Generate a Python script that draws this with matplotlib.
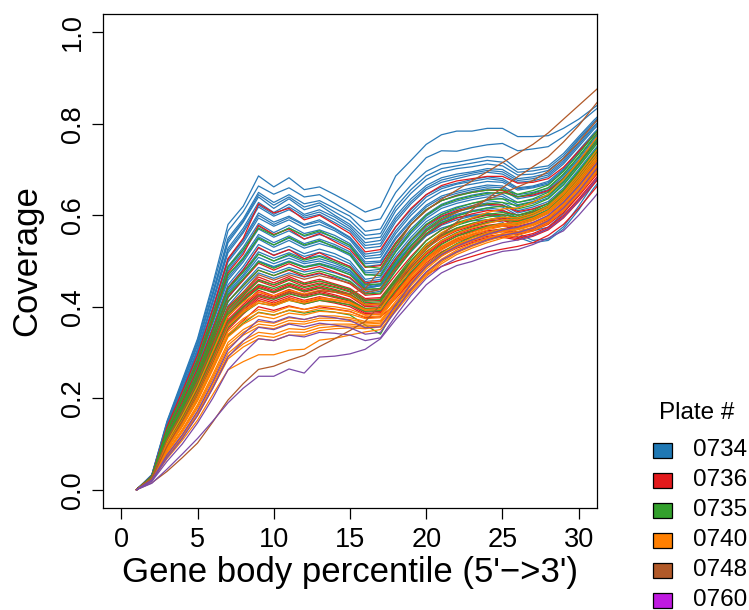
import matplotlib
matplotlib.use("Agg")
import matplotlib.pyplot as plt
from matplotlib.patches import Rectangle

plt.rcParams["font.family"] = ["Liberation Sans", "DejaVu Sans"]

# gene body percentile bins shown (1..32, last one clipped by the axis)
percentile = list(range(1, 33))

# coverage per sample, in thousandths
plate_0734 = [
    [0, 33, 150, 240, 330, 450, 580, 620, 686, 662, 682, 656, 662, 645, 627, 607, 618, 686, 720, 755, 776, 784, 784, 790, 790, 772, 772, 774, 790, 810, 835, 860],
    [0, 32, 148, 236, 326, 442, 566, 608, 664, 646, 660, 640, 645, 626, 606, 586, 592, 650, 690, 726, 741, 740, 748, 754, 757, 741, 745, 750, 772, 800, 828, 855],
    [0, 31, 145, 232, 320, 432, 550, 592, 650, 628, 645, 625, 632, 615, 598, 565, 570, 628, 666, 696, 712, 716, 722, 728, 726, 700, 703, 708, 735, 772, 808, 840],
    [0, 31, 143, 230, 318, 428, 545, 588, 645, 622, 640, 618, 627, 607, 588, 556, 560, 618, 656, 686, 702, 708, 714, 720, 716, 694, 697, 703, 730, 768, 804, 838],
    [0, 31, 142, 228, 315, 425, 540, 585, 640, 615, 636, 612, 622, 600, 580, 548, 552, 610, 648, 678, 694, 702, 706, 712, 708, 688, 690, 698, 725, 765, 800, 835],
    [0, 30, 140, 222, 308, 415, 528, 572, 628, 606, 624, 602, 612, 596, 575, 540, 545, 598, 636, 665, 682, 690, 695, 702, 700, 680, 684, 692, 720, 758, 795, 828],
    [0, 30, 139, 220, 305, 412, 523, 566, 622, 602, 618, 598, 607, 590, 570, 534, 538, 592, 630, 660, 677, 685, 692, 698, 695, 676, 680, 688, 716, 754, 792, 824],
    [0, 30, 138, 218, 302, 408, 518, 562, 618, 598, 612, 594, 602, 584, 565, 528, 532, 586, 625, 656, 672, 680, 688, 694, 690, 672, 675, 684, 712, 750, 788, 820],
    [0, 30, 136, 214, 296, 398, 505, 548, 605, 585, 598, 580, 590, 572, 552, 515, 520, 574, 612, 645, 662, 670, 678, 684, 680, 660, 664, 674, 702, 742, 780, 815],
    [0, 29, 135, 212, 294, 396, 502, 545, 600, 580, 595, 578, 586, 570, 550, 510, 514, 566, 606, 640, 658, 668, 674, 680, 676, 658, 662, 671, 699, 739, 778, 812],
    [0, 29, 134, 210, 292, 392, 498, 540, 594, 576, 590, 572, 580, 566, 546, 505, 508, 560, 600, 632, 652, 662, 668, 674, 672, 655, 660, 668, 696, 736, 775, 810],
    [0, 29, 132, 206, 286, 385, 488, 530, 582, 562, 578, 560, 568, 556, 538, 498, 500, 552, 590, 622, 642, 652, 660, 666, 664, 645, 650, 660, 690, 728, 770, 805],
    [0, 28, 131, 204, 283, 382, 483, 525, 576, 557, 572, 554, 563, 551, 534, 494, 497, 548, 586, 618, 638, 648, 656, 662, 660, 641, 646, 656, 686, 724, 766, 802],
    [0, 28, 130, 202, 280, 378, 478, 520, 570, 552, 566, 548, 558, 546, 530, 488, 492, 540, 580, 612, 632, 644, 652, 658, 655, 636, 642, 652, 682, 720, 762, 800],
    [0, 28, 128, 198, 275, 370, 468, 508, 558, 540, 555, 538, 548, 536, 520, 478, 482, 530, 570, 602, 624, 636, 644, 650, 646, 628, 634, 645, 675, 715, 758, 795],
    [0, 28, 127, 197, 273, 367, 463, 503, 553, 535, 550, 533, 543, 532, 516, 474, 477, 525, 565, 598, 620, 631, 639, 645, 641, 623, 630, 642, 672, 712, 754, 792],
    [0, 28, 126, 195, 270, 364, 458, 498, 548, 530, 545, 528, 538, 528, 512, 470, 472, 520, 560, 593, 615, 626, 634, 640, 636, 618, 626, 638, 668, 708, 750, 790],
    [0, 27, 124, 192, 266, 356, 448, 488, 536, 520, 532, 516, 526, 516, 500, 460, 465, 512, 552, 586, 606, 618, 626, 632, 628, 610, 618, 630, 660, 700, 742, 782],
    [0, 27, 123, 190, 263, 352, 442, 482, 528, 513, 525, 510, 519, 509, 494, 455, 460, 506, 546, 580, 601, 613, 621, 627, 623, 605, 613, 625, 656, 696, 738, 778],
    [0, 27, 122, 188, 260, 348, 436, 476, 520, 506, 518, 505, 512, 502, 488, 450, 455, 500, 540, 574, 596, 608, 616, 622, 618, 600, 608, 620, 652, 692, 735, 775],
    [0, 26, 120, 184, 255, 340, 428, 466, 508, 494, 506, 494, 500, 490, 478, 442, 448, 494, 534, 568, 590, 602, 610, 616, 612, 594, 602, 616, 648, 688, 730, 772],
    [0, 26, 118, 182, 252, 336, 420, 460, 500, 488, 500, 488, 495, 486, 474, 440, 446, 492, 532, 566, 588, 600, 608, 612, 608, 590, 598, 612, 645, 685, 728, 770],
    [0, 26, 115, 178, 246, 328, 410, 450, 486, 474, 486, 476, 482, 474, 462, 432, 438, 486, 526, 560, 582, 594, 600, 604, 600, 584, 592, 606, 638, 678, 722, 765],
    [0, 27, 120, 186, 258, 345, 432, 470, 515, 500, 512, 498, 505, 495, 480, 445, 450, 496, 535, 566, 585, 595, 600, 602, 596, 560, 545, 548, 575, 620, 670, 710],
    [0, 26, 116, 180, 250, 335, 420, 460, 500, 486, 498, 486, 492, 482, 470, 440, 446, 488, 525, 555, 572, 582, 588, 590, 585, 552, 540, 545, 570, 612, 660, 700],
    [0, 25, 112, 174, 240, 320, 402, 440, 474, 462, 474, 465, 472, 465, 455, 428, 434, 480, 520, 555, 578, 590, 598, 600, 594, 572, 566, 574, 604, 645, 690, 735],
]
plate_0736 = [
    [0, 30, 138, 215, 295, 395, 505, 550, 625, 605, 615, 590, 600, 580, 560, 520, 525, 575, 615, 645, 665, 675, 680, 685, 685, 670, 672, 680, 705, 740, 775, 810],
    [0, 29, 132, 204, 280, 374, 474, 515, 578, 558, 570, 548, 560, 542, 525, 486, 490, 540, 580, 612, 632, 643, 650, 655, 654, 640, 644, 654, 680, 716, 754, 792],
    [0, 28, 126, 192, 265, 352, 442, 480, 530, 512, 525, 505, 518, 502, 488, 452, 456, 505, 545, 578, 598, 610, 618, 624, 622, 608, 614, 626, 655, 692, 732, 772],
    [0, 27, 118, 182, 252, 338, 422, 458, 495, 480, 494, 480, 488, 476, 464, 436, 440, 484, 524, 558, 580, 594, 603, 610, 610, 600, 607, 620, 650, 688, 728, 768],
    [0, 27, 115, 178, 246, 330, 412, 446, 480, 468, 480, 466, 474, 462, 450, 425, 428, 470, 510, 545, 568, 582, 592, 600, 602, 594, 602, 616, 645, 682, 722, 762],
    [0, 26, 110, 172, 238, 320, 400, 432, 465, 452, 466, 452, 460, 450, 440, 418, 420, 462, 500, 535, 558, 572, 582, 590, 594, 588, 596, 610, 638, 676, 716, 755],
    [0, 26, 108, 169, 235, 316, 396, 428, 460, 448, 462, 448, 456, 447, 437, 415, 417, 458, 496, 531, 554, 569, 579, 587, 591, 585, 593, 607, 635, 673, 713, 752],
    [0, 26, 106, 166, 232, 312, 392, 424, 456, 444, 458, 444, 452, 444, 434, 412, 414, 455, 492, 528, 550, 566, 576, 584, 588, 582, 590, 604, 632, 670, 710, 750],
    [0, 25, 104, 162, 228, 305, 385, 418, 448, 436, 450, 438, 446, 438, 428, 406, 408, 448, 486, 520, 544, 560, 570, 578, 582, 576, 584, 598, 626, 664, 704, 744],
    [0, 25, 103, 161, 226, 302, 381, 415, 445, 433, 447, 435, 443, 435, 425, 403, 405, 445, 483, 517, 541, 557, 567, 575, 579, 573, 581, 595, 623, 661, 701, 741],
    [0, 25, 102, 160, 224, 300, 378, 412, 442, 430, 444, 432, 440, 432, 422, 400, 402, 442, 480, 514, 538, 554, 564, 572, 576, 570, 578, 592, 620, 658, 698, 738],
    [0, 25, 100, 156, 220, 295, 372, 405, 436, 424, 438, 426, 434, 426, 416, 396, 398, 436, 474, 508, 532, 548, 558, 566, 570, 564, 572, 586, 614, 650, 690, 730],
    [0, 24, 99, 154, 217, 291, 368, 401, 432, 421, 434, 423, 431, 423, 414, 394, 396, 433, 471, 505, 529, 545, 555, 563, 567, 561, 569, 583, 610, 646, 686, 726],
    [0, 24, 98, 152, 215, 288, 364, 398, 428, 418, 430, 420, 428, 420, 412, 392, 394, 430, 468, 502, 526, 542, 552, 560, 564, 558, 566, 580, 606, 642, 682, 722],
    [0, 24, 96, 150, 212, 284, 358, 392, 422, 412, 424, 414, 422, 415, 408, 388, 390, 425, 462, 496, 520, 536, 546, 554, 558, 552, 560, 574, 600, 636, 676, 715],
    [0, 24, 95, 148, 209, 280, 354, 388, 418, 408, 420, 410, 418, 411, 404, 385, 387, 421, 458, 492, 516, 532, 543, 551, 555, 549, 557, 571, 597, 633, 672, 712],
    [0, 24, 94, 146, 206, 276, 350, 384, 414, 404, 416, 406, 414, 408, 400, 382, 384, 418, 455, 488, 512, 528, 540, 548, 552, 546, 554, 568, 594, 630, 668, 708],
    [0, 23, 90, 140, 198, 266, 338, 370, 400, 392, 402, 394, 400, 395, 390, 376, 378, 405, 440, 470, 488, 500, 510, 520, 526, 532, 540, 556, 580, 615, 655, 695],
]
plate_0735 = [
    [0, 29, 132, 205, 285, 382, 488, 525, 572, 556, 572, 556, 566, 550, 534, 488, 484, 536, 580, 612, 632, 642, 650, 655, 656, 646, 654, 666, 696, 734, 776, 812],
    [0, 28, 128, 198, 275, 368, 470, 505, 550, 535, 552, 535, 545, 530, 515, 470, 468, 520, 565, 600, 622, 634, 642, 648, 650, 640, 648, 660, 690, 728, 770, 808],
    [0, 27, 120, 186, 258, 345, 440, 476, 515, 500, 515, 502, 510, 498, 485, 448, 450, 500, 545, 580, 602, 616, 626, 634, 636, 628, 636, 650, 680, 718, 760, 800],
    [0, 26, 116, 180, 250, 335, 426, 461, 498, 484, 498, 486, 494, 483, 470, 438, 440, 489, 533, 570, 593, 607, 617, 625, 628, 621, 629, 643, 673, 712, 754, 795],
    [0, 26, 112, 175, 242, 325, 412, 446, 480, 468, 482, 470, 478, 468, 456, 428, 430, 478, 522, 560, 584, 598, 608, 616, 620, 614, 622, 636, 666, 706, 748, 790],
    [0, 25, 106, 166, 232, 312, 395, 428, 458, 448, 460, 450, 456, 448, 438, 414, 416, 462, 506, 544, 568, 584, 594, 602, 606, 600, 610, 626, 656, 696, 738, 780],
    [0, 25, 104, 163, 228, 307, 388, 421, 449, 440, 452, 442, 449, 442, 432, 409, 411, 457, 500, 537, 561, 578, 588, 596, 601, 596, 606, 622, 652, 692, 734, 776],
    [0, 25, 102, 160, 224, 302, 382, 414, 440, 432, 444, 434, 442, 436, 426, 404, 406, 452, 494, 530, 555, 572, 582, 590, 596, 592, 602, 618, 648, 688, 730, 772],
    [0, 24, 98, 154, 216, 292, 368, 400, 424, 416, 428, 420, 428, 422, 414, 396, 398, 442, 484, 520, 545, 562, 574, 584, 590, 586, 596, 612, 642, 680, 722, 765],
    [0, 24, 94, 148, 208, 280, 355, 386, 408, 402, 414, 406, 414, 410, 404, 390, 392, 436, 476, 510, 536, 554, 566, 576, 582, 580, 590, 606, 636, 674, 716, 758],
    [0, 23, 88, 140, 196, 266, 336, 364, 388, 382, 392, 386, 392, 388, 382, 360, 340, 400, 450, 490, 518, 538, 552, 562, 570, 572, 582, 598, 628, 666, 708, 750],
]
plate_0740 = [
    [0, 25, 104, 162, 226, 302, 380, 410, 432, 424, 436, 428, 436, 432, 424, 404, 406, 450, 492, 528, 552, 568, 580, 590, 596, 594, 604, 620, 650, 690, 734, 778],
    [0, 24, 98, 152, 214, 286, 362, 392, 412, 406, 418, 412, 420, 416, 410, 394, 396, 440, 482, 518, 544, 560, 572, 582, 590, 590, 600, 616, 646, 684, 726, 770],
    [0, 23, 92, 144, 202, 272, 346, 374, 394, 388, 400, 394, 402, 400, 394, 382, 384, 428, 470, 506, 532, 550, 562, 574, 582, 584, 594, 610, 640, 678, 720, 762],
    [0, 23, 90, 141, 198, 267, 340, 368, 387, 381, 393, 388, 396, 394, 389, 378, 380, 424, 466, 502, 528, 546, 559, 571, 579, 581, 591, 607, 636, 673, 715, 757],
    [0, 23, 88, 138, 194, 262, 334, 362, 380, 374, 386, 382, 390, 388, 384, 374, 376, 420, 462, 498, 524, 542, 556, 568, 576, 578, 588, 604, 632, 668, 710, 752],
    [0, 22, 84, 132, 186, 252, 322, 350, 368, 364, 376, 372, 380, 380, 376, 368, 370, 412, 454, 490, 516, 536, 550, 562, 570, 572, 582, 598, 626, 662, 702, 744],
    [0, 22, 82, 129, 182, 247, 316, 344, 362, 358, 370, 367, 375, 375, 372, 365, 367, 408, 450, 486, 513, 533, 547, 559, 567, 570, 580, 596, 624, 660, 700, 742],
    [0, 22, 80, 126, 178, 242, 310, 338, 356, 352, 364, 362, 370, 370, 368, 362, 364, 404, 446, 482, 510, 530, 544, 556, 564, 568, 578, 594, 622, 658, 698, 740],
    [0, 21, 76, 120, 170, 232, 298, 326, 344, 340, 352, 350, 360, 362, 362, 358, 360, 398, 440, 476, 504, 524, 538, 550, 560, 564, 574, 590, 618, 654, 694, 736],
    [0, 21, 74, 117, 166, 227, 292, 319, 337, 333, 345, 344, 354, 357, 358, 355, 358, 396, 437, 473, 501, 521, 535, 547, 557, 562, 572, 588, 616, 652, 692, 734],
    [0, 21, 72, 114, 162, 222, 286, 312, 330, 326, 338, 338, 348, 352, 354, 352, 356, 394, 434, 470, 498, 518, 532, 544, 554, 560, 570, 586, 614, 650, 690, 732],
    [0, 20, 68, 108, 152, 208, 262, 280, 295, 295, 305, 307, 327, 331, 338, 345, 350, 390, 430, 466, 494, 514, 528, 540, 550, 556, 566, 582, 610, 646, 686, 728],
    [0, 24, 96, 150, 210, 282, 358, 388, 408, 402, 414, 408, 416, 414, 408, 392, 394, 445, 495, 535, 562, 580, 594, 606, 614, 616, 628, 646, 678, 718, 762, 805],
]
plate_0748 = [
    [0, 15, 40, 70, 102, 148, 196, 232, 263, 270, 283, 294, 313, 330, 348, 368, 404, 450, 490, 525, 556, 585, 612, 636, 660, 684, 706, 728, 760, 796, 838, 880],
    [0, 24, 95, 150, 212, 285, 362, 395, 425, 418, 432, 425, 435, 432, 428, 440, 480, 530, 580, 610, 635, 655, 675, 695, 715, 735, 755, 780, 810, 840, 870, 900],
    [0, 26, 110, 170, 236, 315, 398, 432, 470, 458, 470, 460, 468, 460, 452, 430, 438, 485, 528, 565, 590, 606, 620, 634, 648, 662, 676, 696, 724, 760, 800, 840],
]
plate_0760 = [
    [0, 14, 45, 78, 112, 150, 190, 222, 248, 248, 264, 255, 290, 292, 297, 307, 330, 372, 410, 448, 474, 490, 499, 511, 521, 525, 536, 550, 566, 600, 638, 680],
    [0, 18, 62, 100, 146, 200, 262, 298, 330, 326, 338, 334, 344, 342, 338, 326, 332, 380, 425, 462, 488, 506, 518, 530, 540, 546, 556, 570, 596, 632, 672, 715],
    [0, 20, 70, 112, 162, 222, 290, 325, 355, 350, 362, 356, 364, 360, 354, 340, 344, 392, 438, 476, 502, 520, 534, 546, 556, 562, 572, 588, 616, 652, 694, 735],
    [0, 21, 76, 120, 172, 236, 305, 340, 372, 366, 378, 372, 380, 376, 370, 354, 356, 404, 450, 488, 514, 532, 546, 558, 568, 574, 584, 600, 628, 664, 706, 748],
]

plates = ["0734", "0736", "0735", "0740", "0748", "0760"]
plate_curves = [plate_0734, plate_0736, plate_0735, plate_0740, plate_0748, plate_0760]
line_colors = ["#2a7ab8", "#e31a1c", "#33a02c", "#ff7f00", "#b15928", "#7b4aa6"]
legend_colors = ["#1f78b4", "#e31a1c", "#33a02c", "#ff7f00", "#b15928", "#bf1ae0"]


def main():
    fig = plt.figure(figsize=(7.49, 6.10), dpi=100)
    ax = fig.add_axes([103 / 749, 102 / 610, 494 / 749, 494 / 610])

    for curves, col in zip(plate_curves, line_colors):
        for c in curves:
            ax.plot(percentile, [v / 1000 for v in c], color=col, lw=0.9)

    ax.set_xlim(-1.2, 31.2)
    ax.set_ylim(-0.04, 1.04)
    ax.set_xticks([0, 5, 10, 15, 20, 25, 30])
    ax.set_yticks([0.0, 0.2, 0.4, 0.6, 0.8, 1.0])
    ax.set_yticklabels(["0.0", "0.2", "0.4", "0.6", "0.8", "1.0"])
    ax.tick_params(direction="out", length=8, width=0.9, labelsize=19.5)
    ax.tick_params(axis="x", pad=6)
    ax.tick_params(axis="y", pad=4, labelrotation=90)
    for lab in ax.get_yticklabels():
        lab.set_va("center")
    for s in ax.spines.values():
        s.set_linewidth(0.9)
    ax.set_xlabel("Gene body percentile (5'\u2212>3')", fontsize=25, labelpad=2)
    ax.set_ylabel("Coverage", fontsize=25, labelpad=12)

    # legend outside the plot, bottom right
    fig.text(697 / 749, 1 - 413 / 610, "Plate #", fontsize=17.5, ha="center", va="center")
    for i, (name, col) in enumerate(zip(plates, legend_colors)):
        yc = 450.5 + 30 * i
        fig.add_artist(Rectangle((653 / 749, 1 - (yc + 7.5) / 610), 18.5 / 749, 15 / 610,
                                 transform=fig.transFigure, facecolor=col,
                                 edgecolor="black", lw=0.9))
        fig.text(693 / 749, 1 - yc / 610, name, fontsize=17.5, ha="left", va="center")

    fig.savefig("out.png", dpi=100)


if __name__ == "__main__":
    main()
